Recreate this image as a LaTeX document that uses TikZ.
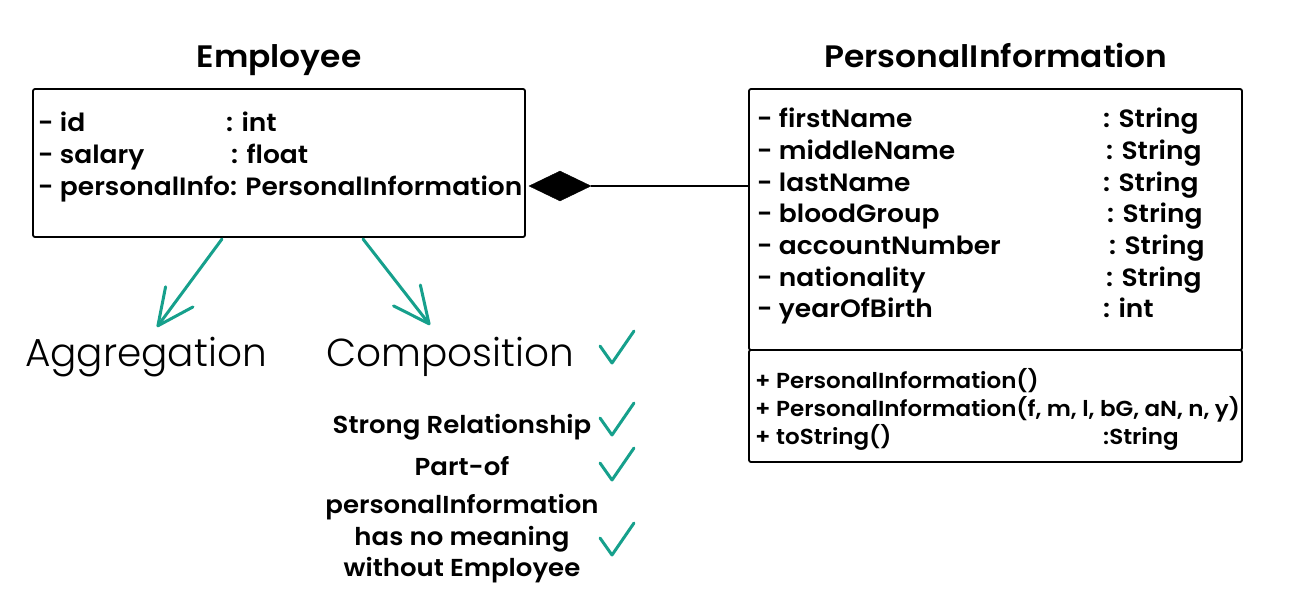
\documentclass[tikz,border=0pt]{standalone}
\usepackage{fontspec}
\setmainfont{Poppins}[BoldFont={Poppins SemiBold}]
\newfontfamily\lightfont{Poppins Light}
\newfontfamily\widebold{Poppins SemiBold}[FakeStretch=1.06]
\usetikzlibrary{arrows.meta,shapes.geometric}
\definecolor{teal1}{RGB}{22,160,140}
\tikzset{
  box/.style={draw=black, line width=1.8pt, rounded corners=2pt, inner sep=0pt},
  attr/.style={anchor=base west, inner sep=0pt, font=\widebold\fontsize{25}{25}\selectfont},
  meth/.style={anchor=base west, inner sep=0pt, font=\widebold\fontsize{21.7}{22}\selectfont},
  title/.style={anchor=base, inner sep=0pt, font=\widebold\fontsize{31}{31}\selectfont},
  big/.style={anchor=base, inner sep=0pt, font=\lightfont\fontsize{39}{40}\selectfont},
  note/.style={anchor=base, inner sep=0pt, font=\widebold\fontsize{24.5}{25}\selectfont},
  tealarrow/.style={draw=teal1, line width=3pt, line cap=round, line join=round,
     -{Straight Barb[length=36pt,width=34pt,line cap=round,line join=round]}},
  tick/.pic={\draw[teal1, line width=3pt, line cap=round, line join=round]
     (-14,-7) -- (-2,10) -- (20,-22);}
}
\begin{document}
\begin{tikzpicture}[x=1pt,y=-1pt]
\useasboundingbox (0,0) rectangle (1299,589);
% titles
\node[title] (empT) at (279,67) {Employee};
\node[title] (piT) at (996,67) {PersonalInformation};
% boxes
\node[box, minimum width=492pt, minimum height=148pt] (emp) at (279,163) {};
\node[box, minimum width=493pt, minimum height=261pt] (pi) at (995.5,219.5) {};
\node[box, minimum width=493pt, minimum height=112pt] (pim) at (995.5,406) {};
% employee attributes
\node[attr] (e1) at (38,131) {- id};
\node[attr] (e1t) at (226,131) {: int};
\node[attr] (e2) at (38,163) {- salary};
\node[attr] (e2t) at (231,163) {: float};
\node[attr] (e3) at (38,195) {- personalInfo: PersonalInformation};
% PI attributes
\node[attr] (p1) at (757,127) {- firstName};
\node[attr] (p1t) at (1103,127) {: String};
\node[attr] (p2) at (757,159) {- middleName};
\node[attr] (p2t) at (1106,159) {: String};
\node[attr] (p3) at (757,191) {- lastName};
\node[attr] (p3t) at (1103,191) {: String};
\node[attr] (p4) at (757,222) {- bloodGroup};
\node[attr] (p4t) at (1107,222) {: String};
\node[attr] (p5) at (757,254) {- accountNumber};
\node[attr] (p5t) at (1109,254) {: String};
\node[attr] (p6) at (757,286) {- nationality};
\node[attr] (p6t) at (1106,286) {: String};
\node[attr] (p7) at (757,317) {- yearOfBirth};
\node[attr] (p7t) at (1103,317) {: int};
% methods
\node[meth] (m1) at (755,388) {+ PersonalInformation()};
\node[meth] (m2) at (755,416) {+ PersonalInformation(f, m, l, bG, aN, n, y)};
\node[meth] (m3) at (755,444) {+ toString()};
\node[meth] (m3t) at (1103,444) {:String};
% composition diamond
\node[diamond, fill=black, draw=black, inner sep=0pt, minimum width=62pt, minimum height=30pt] (dia) at (560,186) {};
\draw[line width=2pt] (dia.east) -- (dia.east -| pi.west);
% labels
\node[big] (agg) at (146,366) {Aggregation};
\node[big] (comp) at (450,366) {Composition};
\node[note] (n1) at (462,433) {Strong Relationship};
\node[note] (n2) at (462,475) {Part-of};
\node[note] (n3) at (462,513) {personalInformation};
\node[note] (n4) at (462,545) {has no meaning};
\node[note] (n5) at (462,576) {without Employee};
% teal arrows
\coordinate (a1s) at (222,239);
\coordinate (a1t) at (157,327);
\coordinate (a2s) at (363,239);
\coordinate (a2t) at (430,325);
\draw[tealarrow] (a1s) -- (a1t);
\draw[tealarrow] (a2s) -- (a2t);
% ticks
\pic at (614,353) {tick};
\pic at (614,425) {tick};
\pic at (614,470) {tick};
\pic at (614,545) {tick};
\end{tikzpicture}
\end{document}
